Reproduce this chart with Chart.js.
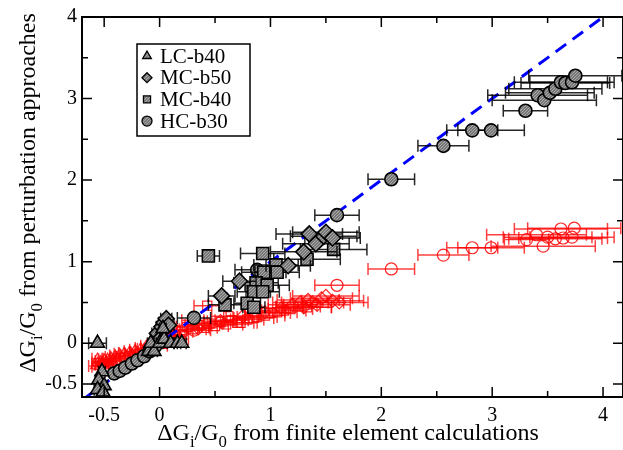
<!DOCTYPE html>
<html>
<head>
<meta charset="utf-8">
<script src="https://cdn.jsdelivr.net/npm/chart.js@4.4.0/dist/chart.umd.min.js"></script>
<style>
html, body { margin: 0; padding: 0; background: #fff; }
#wrap { width: 623px; height: 450px; position: relative; }
</style>
</head>
<body>
<div id="wrap"><canvas id="myChart"></canvas></div>
<script>
// x = finite element, y = perturbation, xErr = half width of the horizontal error bar
const lcX   = [-0.56, -0.52, -0.55, -0.50, -0.56, -0.51, -0.10, -0.05, -0.08, 0.00, 0.04, 0.10, 0.16, 0.20, 0.03];
const lcY   = [0.00, -0.35, -0.45, -0.52, -0.57, -0.60, -0.10, -0.10, 0.00, 0.00, 0.05, 0.00, 0.00, 0.00, 0.18];
const lcErr = [0.08, 0.03, 0.03, 0.03, 0.03, 0.03, 0.03, 0.03, 0.03, 0.03, 0.03, 0.03, 0.03, 0.04, 0.03];

const mc50X   = [-0.02, 0.02, 0.04, 0.06, 0.08, 0.00, 0.56, 0.72, 1.16, 1.30, 1.35, 1.41, 1.48, 1.50, 1.56];
const mc50Y   = [0.12, 0.20, 0.25, 0.30, 0.22, 0.05, 0.58, 0.76, 0.95, 1.12, 1.34, 1.22, 1.31, 1.36, 1.29];
const mc50Err = [0.05, 0.05, 0.05, 0.05, 0.05, 0.04, 0.12, 0.15, 0.20, 0.30, 0.30, 0.30, 0.30, 0.30, 0.25];

const mc40X   = [0.44, 0.93, 1.05, 0.94, 1.06, 0.87, 0.97, 0.85, 0.93, 1.33, 1.57, 0.59, 0.79, 0.85, 0.05, -0.02];
const mc40Y   = [1.07, 1.10, 0.96, 0.87, 0.87, 0.74, 0.71, 0.63, 0.63, 1.03, 1.15, 0.47, 0.49, 0.44, 0.22, 0.05];
const mc40Err = [0.10, 0.20, 0.20, 0.20, 0.20, 0.20, 0.20, 0.15, 0.15, 0.30, 0.30, 0.15, 0.12, 0.10, 0.05, 0.04];

const hcX   = [-0.41, -0.36, -0.31, -0.25, -0.20, -0.14, -0.09, -0.04, 0.31, 0.88, 1.60, 2.09, 2.56, 2.82, 2.99, 3.30, 3.41, 3.47, 3.52, 3.57, 3.62, 3.66, 3.72, 3.75];
const hcY   = [-0.37, -0.34, -0.30, -0.25, -0.21, -0.16, -0.10, -0.04, 0.31, 0.90, 1.57, 2.01, 2.42, 2.61, 2.61, 2.85, 3.04, 2.98, 3.07, 3.12, 3.20, 3.19, 3.20, 3.28];
const hcErr = [0.03, 0.03, 0.03, 0.03, 0.03, 0.03, 0.03, 0.03, 0.15, 0.20, 0.20, 0.21, 0.23, 0.23, 0.30, 0.20, 0.45, 0.47, 0.40, 0.42, 0.42, 0.40, 0.38, 0.42];

// red open symbols
const rLcX   = [-0.58, -0.56, -0.55, -0.53, -0.52, -0.50, -0.49, -0.47, -0.45, -0.44, -0.42, -0.40, -0.38, -0.36, -0.34, -0.32, -0.30, -0.27, -0.25, -0.22, -0.20, -0.17, -0.14, -0.12, -0.50, -0.45, -0.56, 0.02, 0.12, -0.05];
const rLcY   = [-0.28, -0.24, -0.29, -0.22, -0.26, -0.20, -0.25, -0.19, -0.23, -0.17, -0.21, -0.15, -0.19, -0.13, -0.17, -0.12, -0.15, -0.10, -0.13, -0.08, -0.11, -0.06, -0.07, -0.03, -0.28, -0.27, -0.19, -0.03, 0.08, -0.02];
const rLcErr = [0.06, 0.05, 0.06, 0.05, 0.06, 0.05, 0.06, 0.05, 0.06, 0.05, 0.06, 0.05, 0.06, 0.05, 0.06, 0.05, 0.06, 0.05, 0.06, 0.05, 0.06, 0.05, 0.06, 0.05, 0.05, 0.05, 0.05, 0.05, 0.05, 0.05];

const rMc40X   = [0.05, 0.10, 0.15, 0.20, 0.25, 0.30, 0.35, 0.40, 0.43, 0.45, 0.50, 0.55, 0.60, 0.65, 0.70, 0.73, 0.79, 0.85, 0.88, 0.95, 1.00, 1.06, 1.12, 1.18, 1.25, 1.33, 0.62, 0.30, 0.18];
const rMc40Y   = [0.12, 0.10, 0.16, 0.14, 0.20, 0.17, 0.22, 0.19, 0.46, 0.24, 0.21, 0.26, 0.23, 0.28, 0.25, 0.25, 0.29, 0.31, 0.32, 0.34, 0.37, 0.38, 0.40, 0.42, 0.45, 0.44, 0.33, 0.28, 0.05];
const rMc40Err = [0.08, 0.08, 0.10, 0.10, 0.10, 0.12, 0.12, 0.12, 0.12, 0.12, 0.12, 0.15, 0.15, 0.15, 0.15, 0.15, 0.15, 0.18, 0.18, 0.18, 0.18, 0.18, 0.20, 0.20, 0.20, 0.22, 0.15, 0.10, 0.08];

const rMc50X   = [0.15, 0.35, 0.55, 0.75, 0.95, 1.10, 1.20, 1.27, 1.34, 1.38, 1.42, 1.46, 1.50, 1.56, 1.62, 1.30];
const rMc50Y   = [0.10, 0.18, 0.27, 0.33, 0.38, 0.43, 0.47, 0.50, 0.53, 0.50, 0.47, 0.55, 0.58, 0.52, 0.50, 0.44];
const rMc50Err = [0.08, 0.10, 0.12, 0.15, 0.18, 0.20, 0.22, 0.25, 0.28, 0.28, 0.30, 0.28, 0.30, 0.28, 0.26, 0.25];

const rHcX   = [0.31, 1.60, 2.09, 2.56, 2.82, 2.99, 3.31, 3.40, 3.46, 3.50, 3.57, 3.62, 3.64, 3.72, 3.74];
const rHcY   = [0.16, 0.71, 0.91, 1.08, 1.17, 1.17, 1.27, 1.33, 1.19, 1.30, 1.28, 1.40, 1.29, 1.30, 1.41];
const rHcErr = [0.15, 0.20, 0.21, 0.23, 0.23, 0.30, 0.20, 0.45, 0.47, 0.40, 0.42, 0.42, 0.40, 0.38, 0.42];

const diagX = [-0.7, 4.2];
const diagY = [-0.7, 4.2];

const legendLabels = ["LC-b40", "MC-b50", "MC-b40", "HC-b30"];
const legendShapes = ["triangle", "rectRot", "rect", "circle"];

const xTicks = [-0.5, 0, 1, 2, 3, 4];
const yTicks = [-0.5, 0, 1, 2, 3, 4];
const minorTicks = [0.5, 1.5, 2.5, 3.5];

const SERIF = "'Liberation Serif', 'Times New Roman', serif";

function pts(xs, ys) {
    return xs.map((x, i) => ({ x: x, y: ys[i] }));
}

// grey textured fill like the xmgrace pattern
function greyPattern() {
    const c = document.createElement('canvas');
    c.width = 3; c.height = 3;
    const g = c.getContext('2d');
    g.fillStyle = '#777777';
    g.fillRect(0, 0, 3, 3);
    g.fillStyle = '#a9a9a9';
    g.fillRect(0, 0, 1, 1);
    g.fillRect(2, 1, 1, 1);
    g.fillRect(1, 2, 1, 1);
    return g.createPattern(c, 'repeat');
}
const fill = greyPattern();

function blackSet(label, xs, ys, err, shape, r) {
    return {
        label: label, data: pts(xs, ys), xErr: err, errColor: 'rgba(0,0,0,0.85)',
        pointStyle: shape, pointRadius: r, pointHoverRadius: r,
        backgroundColor: fill, borderColor: '#000', borderWidth: 1.6,
        showLine: false, order: 1, clip: false
    };
}
function redSet(label, xs, ys, err, shape, r) {
    return {
        label: label, data: pts(xs, ys), xErr: err, errColor: 'rgba(255,0,0,0.75)',
        pointStyle: shape, pointRadius: r, pointHoverRadius: r,
        backgroundColor: 'rgba(0,0,0,0)', borderColor: 'rgba(255,0,0,0.85)', borderWidth: 1.2,
        showLine: false, order: 3
    };
}

const errorBars = {
    id: 'errorBars',
    beforeDatasetDraw(chart, args) {
        const ds = chart.data.datasets[args.index];
        if (!ds.xErr) return;
        const sx = chart.scales.x, sy = chart.scales.y, a = chart.chartArea;
        const ctx = chart.ctx;
        ctx.save();
        ctx.beginPath();
        ctx.rect(a.left, a.top, a.right - a.left, a.bottom - a.top);
        ctx.clip();
        ctx.strokeStyle = ds.errColor;
        ctx.lineWidth = 1.5;
        ds.data.forEach((p, i) => {
            const e = ds.xErr[i];
            const x0 = sx.getPixelForValue(p.x - e);
            const x1 = sx.getPixelForValue(p.x + e);
            const y = sy.getPixelForValue(p.y);
            ctx.beginPath();
            ctx.moveTo(x0, y); ctx.lineTo(x1, y);
            ctx.moveTo(x0, y - 6); ctx.lineTo(x0, y + 6);
            ctx.moveTo(x1, y - 6); ctx.lineTo(x1, y + 6);
            ctx.stroke();
        });
        ctx.restore();
    }
};

function drawSub(ctx, parts, size) {
    // parts: [text, isSub]
    let w = 0;
    parts.forEach(p => {
        ctx.font = (p[1] ? size * 0.7 : size) + 'px ' + SERIF;
        w += ctx.measureText(p[0]).width;
    });
    return w;
}
function writeSub(ctx, parts, size, x, y) {
    let cx = x;
    parts.forEach(p => {
        ctx.font = (p[1] ? size * 0.7 : size) + 'px ' + SERIF;
        ctx.fillText(p[0], cx, p[1] ? y + size * 0.3 : y);
        cx += ctx.measureText(p[0]).width;
    });
}

const frame = {
    id: 'frame',
    afterDraw(chart) {
        const ctx = chart.ctx, a = chart.chartArea;
        const sx = chart.scales.x, sy = chart.scales.y;
        ctx.save();
        ctx.strokeStyle = '#000';
        ctx.lineWidth = 2;
        ctx.strokeRect(a.left, a.top, a.right - a.left, a.bottom - a.top);
        ctx.lineWidth = 1.5;
        const tick = (vals, len) => {
            vals.forEach(v => {
                const px = sx.getPixelForValue(v);
                ctx.beginPath();
                ctx.moveTo(px, a.bottom); ctx.lineTo(px, a.bottom - len);
                ctx.moveTo(px, a.top); ctx.lineTo(px, a.top + len);
                ctx.stroke();
                const py = sy.getPixelForValue(v);
                ctx.beginPath();
                ctx.moveTo(a.left, py); ctx.lineTo(a.left + len, py);
                ctx.moveTo(a.right, py); ctx.lineTo(a.right - len, py);
                ctx.stroke();
            });
        };
        tick(xTicks, 10);
        tick(minorTicks, 6);

        // axis titles with subscripts
        ctx.fillStyle = '#000';
        ctx.textBaseline = 'alphabetic';
        const size = 24;
        const xt = [['\u0394G', 0], ['i', 1], ['/G', 0], ['0', 1], [' from finite element calculations', 0]];
        const xw = drawSub(ctx, xt, size);
        writeSub(ctx, xt, size, 348 - xw / 2, 440);
        const yt = [['\u0394G', 0], ['i', 1], ['/G', 0], ['0', 1], [' from perturbation approaches', 0]];
        const yw = drawSub(ctx, yt, size);
        ctx.translate(35, 193);
        ctx.rotate(-Math.PI / 2);
        writeSub(ctx, yt, size, -yw / 2, 0);
        ctx.restore();

        // legend box
        ctx.save();
        ctx.strokeStyle = '#000';
        ctx.lineWidth = 1.5;
        ctx.strokeRect(137, 44, 113, 92);
        ctx.fillStyle = '#000';
        ctx.font = '21px ' + SERIF;
        ctx.textBaseline = 'middle';
        legendLabels.forEach((lab, i) => {
            const y = 56 + i * 21.7;
            ctx.fillStyle = fill;
            ctx.strokeStyle = '#000';
            ctx.lineWidth = 1.3;
            Chart.helpers.drawPoint(ctx, { pointStyle: legendShapes[i], radius: 5, borderWidth: 1.3 }, 147, y);
            ctx.fillStyle = '#000';
            ctx.fillText(lab, 160, y + 1);
        });
        ctx.restore();
    }
};

const data = {
    datasets: [
        blackSet("LC-b40", lcX, lcY, lcErr, 'triangle', 8),
        blackSet("MC-b50", mc50X, mc50Y, mc50Err, 'rectRot', 8),
        blackSet("MC-b40", mc40X, mc40Y, mc40Err, 'rect', 8.5),
        blackSet("HC-b30", hcX, hcY, hcErr, 'circle', 6.5),
        {
            label: "y = x", type: 'line', data: pts(diagX, diagY),
            borderColor: '#0000ff', borderWidth: 3, borderDash: [13, 8],
            pointRadius: 0, fill: false, order: 2
        },
        redSet("LC-b40 r", rLcX, rLcY, rLcErr, 'triangle', 5.5),
        redSet("MC-b40 r", rMc40X, rMc40Y, rMc40Err, 'rect', 6.5),
        redSet("MC-b50 r", rMc50X, rMc50Y, rMc50Err, 'rectRot', 6.5),
        redSet("HC-b30 r", rHcX, rHcY, rHcErr, 'circle', 6)
    ]
};

const ctx = document.getElementById('myChart').getContext('2d');
const myChart = new Chart(ctx, {
    type: 'scatter',
    data: data,
    plugins: [errorBars, frame],
    options: {
        responsive: true,
        maintainAspectRatio: false,
        animation: { duration: 0 },
        layout: { autoPadding: false, padding: { top: 17, right: 0, bottom: 0, left: 0 } },
        plugins: { legend: { display: false }, tooltip: { enabled: false } },
        scales: {
            x: {
                type: 'linear', min: -0.7, max: 4.18,
                grid: { display: false, drawTicks: false },
                border: { display: false },
                afterBuildTicks: s => { s.ticks = xTicks.map(v => ({ value: v })); },
                afterFit: s => { s.height = 53; s.paddingRight = 0; s.paddingLeft = 0; },
                ticks: {
                    autoSkip: false, maxRotation: 0, padding: 7, color: '#000',
                    font: { family: SERIF, size: 20 },
                    callback: v => String(v)
                }
            },
            y: {
                type: 'linear', min: -0.66, max: 4,
                grid: { display: false, drawTicks: false },
                border: { display: false },
                afterBuildTicks: s => { s.ticks = yTicks.map(v => ({ value: v })); },
                afterFit: s => { s.width = 82; },
                ticks: {
                    autoSkip: false, padding: 5, color: '#000',
                    font: { family: SERIF, size: 20 },
                    callback: v => String(v)
                }
            }
        }
    }
});
</script>
</body>
</html>
